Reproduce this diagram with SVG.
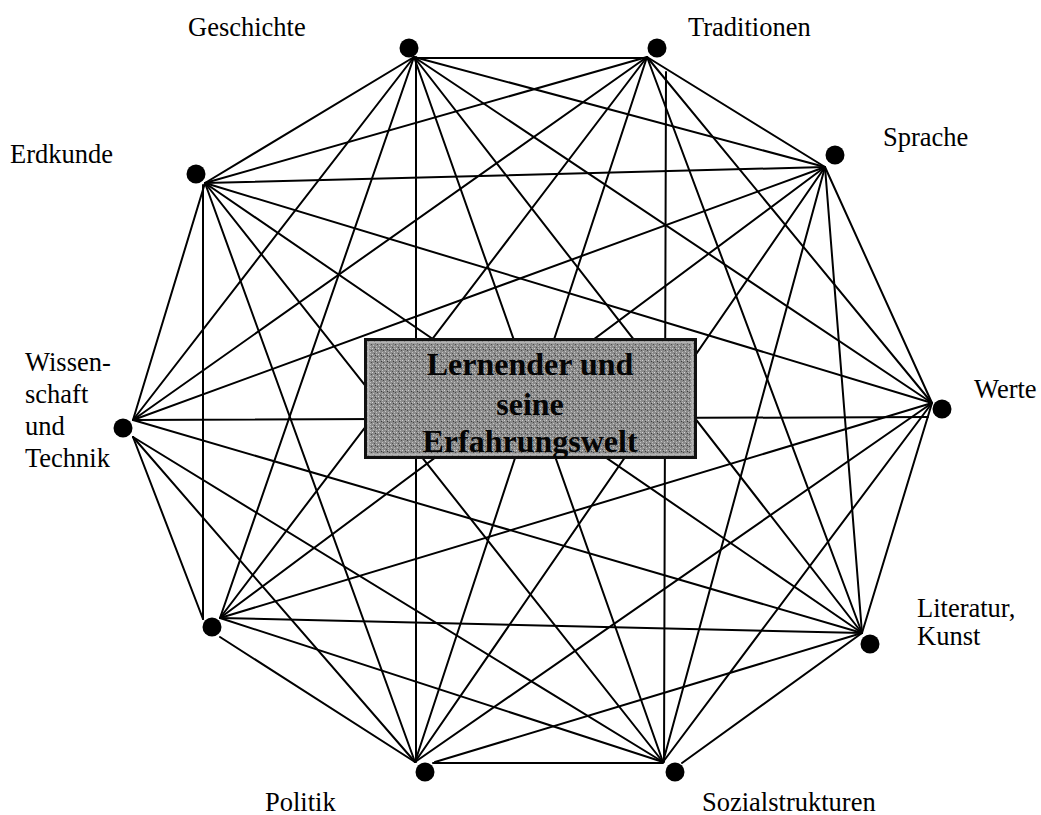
<svg xmlns="http://www.w3.org/2000/svg" width="1041" height="815" viewBox="0 0 1041 815">
<style>
.e{stroke:#000;stroke-width:2;fill:none;stroke-linecap:round}
.d{fill:#000}
.lb{font-family:"Liberation Serif","Times New Roman",serif;font-size:26.5px;fill:#000}
.ct{font-family:"Liberation Serif","Times New Roman",serif;font-size:32px;font-weight:bold;fill:#050505;text-anchor:middle}
</style>
<defs>
<pattern id="stip" width="6" height="6" patternUnits="userSpaceOnUse">
<rect width="6" height="6" fill="#8c8c8c"/>
<rect x="0" y="0" width="1" height="1" fill="#d4d4d4"/>
<rect x="3" y="1" width="1" height="1" fill="#3a3a3a"/>
<rect x="1" y="3" width="1" height="1" fill="#c8c8c8"/>
<rect x="4" y="4" width="1" height="1" fill="#c0c0c0"/>
<rect x="5" y="2" width="1" height="1" fill="#4a4a4a"/>
<rect x="2" y="5" width="1" height="1" fill="#505050"/>
<rect x="4" y="0" width="1" height="1" fill="#b8b8b8"/>
</pattern>
</defs>
<rect width="1041" height="815" fill="#fff"/>
<g id="connectors">
<line class="e" x1="418" y1="58" x2="647" y2="58"/>
<line class="e" x1="414" y1="57" x2="825" y2="167"/>
<line class="e" x1="414" y1="57" x2="932" y2="403"/>
<line class="e" x1="414" y1="57" x2="862" y2="633"/>
<line class="e" x1="414" y1="57" x2="663" y2="762"/>
<line class="e" x1="416" y1="57" x2="416" y2="762"/>
<line class="e" x1="414" y1="57" x2="220" y2="618"/>
<line class="e" x1="414" y1="57" x2="133" y2="420"/>
<line class="e" x1="414" y1="57" x2="205" y2="183"/>
<line class="e" x1="647" y1="57" x2="825" y2="167"/>
<line class="e" x1="647" y1="57" x2="932" y2="403"/>
<line class="e" x1="647" y1="57" x2="862" y2="633"/>
<line class="e" x1="666" y1="72" x2="664" y2="762"/>
<line class="e" x1="647" y1="57" x2="415" y2="762"/>
<line class="e" x1="647" y1="57" x2="220" y2="618"/>
<line class="e" x1="647" y1="57" x2="133" y2="420"/>
<line class="e" x1="647" y1="57" x2="205" y2="183"/>
<line class="e" x1="825" y1="167" x2="932" y2="403"/>
<line class="e" x1="825" y1="167" x2="862" y2="633"/>
<line class="e" x1="825" y1="167" x2="663" y2="762"/>
<line class="e" x1="825" y1="167" x2="415" y2="762"/>
<line class="e" x1="825" y1="167" x2="220" y2="618"/>
<line class="e" x1="825" y1="167" x2="133" y2="420"/>
<line class="e" x1="825" y1="167" x2="205" y2="183"/>
<line class="e" x1="932" y1="403" x2="862" y2="633"/>
<line class="e" x1="932" y1="403" x2="663" y2="762"/>
<line class="e" x1="932" y1="403" x2="415" y2="762"/>
<line class="e" x1="932" y1="403" x2="220" y2="618"/>
<line class="e" x1="928" y1="417" x2="133" y2="420"/>
<line class="e" x1="932" y1="403" x2="205" y2="183"/>
<line class="e" x1="862" y1="633" x2="682" y2="763"/>
<line class="e" x1="862" y1="633" x2="435" y2="762"/>
<line class="e" x1="862" y1="633" x2="220" y2="618"/>
<line class="e" x1="862" y1="633" x2="133" y2="420"/>
<line class="e" x1="862" y1="633" x2="205" y2="183"/>
<line class="e" x1="663" y1="763" x2="433" y2="763"/>
<line class="e" x1="663" y1="762" x2="220" y2="618"/>
<line class="e" x1="663" y1="762" x2="133" y2="437"/>
<line class="e" x1="663" y1="762" x2="205" y2="183"/>
<line class="e" x1="415" y1="762" x2="220" y2="637"/>
<line class="e" x1="415" y1="762" x2="133" y2="437"/>
<line class="e" x1="415" y1="762" x2="205" y2="183"/>
<line class="e" x1="203" y1="619" x2="133" y2="437"/>
<line class="e" x1="203" y1="619" x2="203" y2="185"/>
<line class="e" x1="133" y1="420" x2="205" y2="183"/>
</g>
<g id="center">
<rect x="365.5" y="339.5" width="330" height="118" fill="url(#stip)" stroke="#111" stroke-width="3"/>
<rect x="368.5" y="342.5" width="324" height="112" fill="none" stroke="#b4b4b4" stroke-width="2"/>
<text class="ct" x="530" y="375">Lernender und</text>
<text class="ct" x="530" y="415">seine</text>
<text class="ct" x="530" y="452">Erfahrungswelt</text>
</g>
<g id="n-geschichte"><circle class="d" cx="409" cy="48" r="9.5"/><text class="lb" x="188" y="36">Geschichte</text></g>
<g id="n-traditionen"><circle class="d" cx="657" cy="48" r="9.5"/><text class="lb" x="688" y="36">Traditionen</text></g>
<g id="n-sprache"><circle class="d" cx="835" cy="155" r="9.5"/><text class="lb" x="883" y="146">Sprache</text></g>
<g id="n-werte"><circle class="d" cx="942" cy="409" r="9.5"/><text class="lb" x="974" y="398">Werte</text></g>
<g id="n-literatur"><circle class="d" cx="870" cy="644" r="9.5"/><text class="lb" x="917" y="617">Literatur,</text><text class="lb" x="917" y="645">Kunst</text></g>
<g id="n-sozialstrukturen"><circle class="d" cx="675" cy="772" r="9.5"/><text class="lb" x="702" y="811">Sozialstrukturen</text></g>
<g id="n-politik"><circle class="d" cx="425" cy="772" r="9.5"/><text class="lb" x="265" y="811">Politik</text></g>
<g id="n-unlabeled"><circle class="d" cx="212" cy="627" r="9.5"/></g>
<g id="n-wissenschaft"><circle class="d" cx="123" cy="428" r="9.5"/><text class="lb" x="25" y="371">Wissen-</text><text class="lb" x="25" y="403">schaft</text><text class="lb" x="25" y="435">und</text><text class="lb" x="25" y="467">Technik</text></g>
<g id="n-erdkunde"><circle class="d" cx="196" cy="174" r="9.5"/><text class="lb" x="10" y="163">Erdkunde</text></g>
</svg>
